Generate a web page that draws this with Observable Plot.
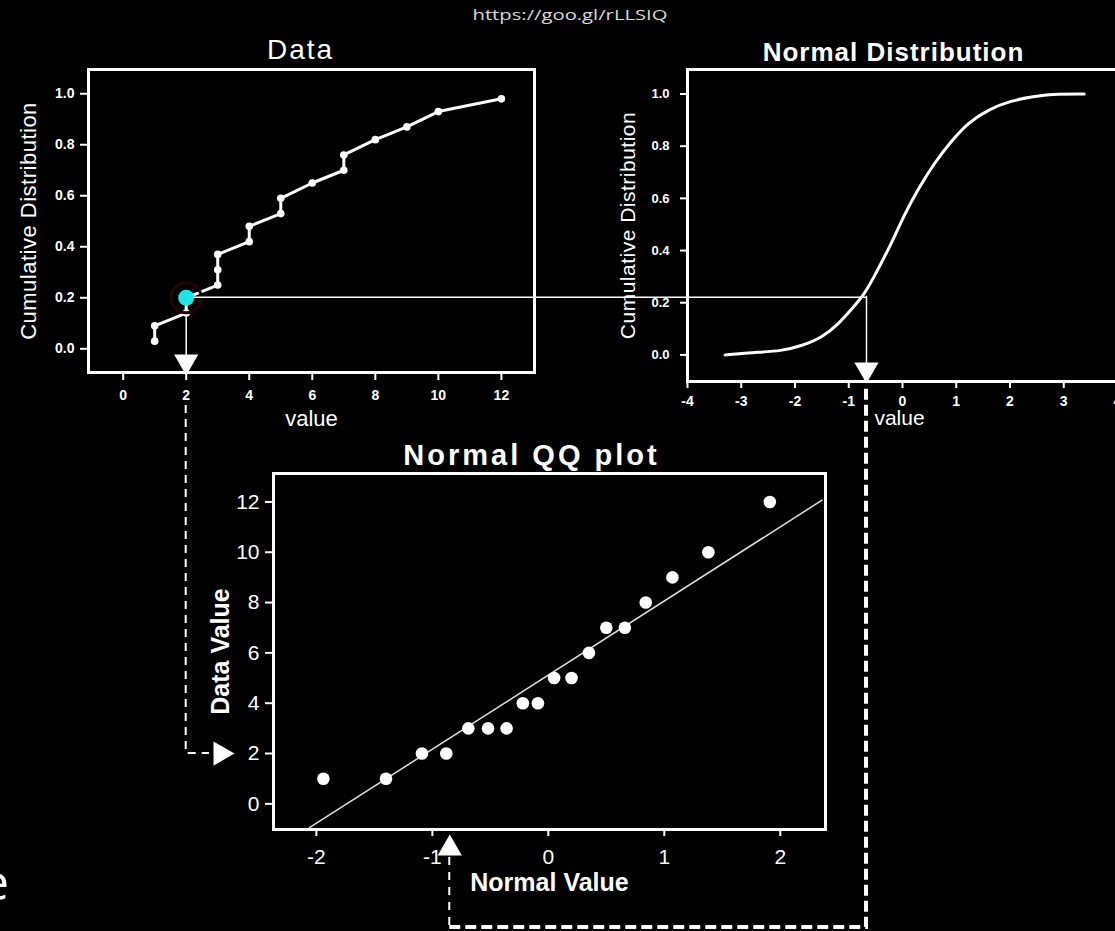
<!DOCTYPE html>
<html><head><meta charset="utf-8">
<script src="https://cdn.jsdelivr.net/npm/d3@7"></script>
<script src="https://cdn.jsdelivr.net/npm/@observablehq/plot@0.6"></script>
<style>
html,body{margin:0;padding:0;background:#000;}
#wrap{position:relative;width:1115px;height:931px;overflow:hidden;background:#000;}
#wrap svg{position:absolute;max-width:none;}
</style></head><body><div id="wrap"></div>
<script>
// ---- Data plot (empirical cumulative distribution) ----
const dataValues = [1,1,2,2,3,3,3,4,4,5,5,6,7,7,8,9,10,12];
const dataCum = [0.03,0.09,0.14,0.20,0.25,0.31,0.37,0.42,0.48,0.53,0.59,0.65,0.70,0.76,0.82,0.87,0.93,0.98];
const dataXTicks = [0,2,4,6,8,10,12];
const dataYTicks = [0,0.2,0.4,0.6,0.8,1.0];
const dataXDomain = [-1.1, 13.05];
const dataYDomain = [-0.093, 1.095];
const pickValue = 2;      // highlighted data value
const pickCum = 0.20;     // its cumulative probability

// ---- Normal distribution CDF ----
const normX = [-3.30,-2.80,-2.24,-1.87,-1.50,-1.19,-0.95,-0.70,-0.45,-0.20,0.04,0.29,0.60,0.91,1.22,1.59,2.02,2.45,2.76,3.38];
const normCum = [0.0,0.009,0.015,0.035,0.066,0.118,0.175,0.233,0.33,0.43,0.54,0.636,0.738,0.82,0.89,0.94,0.975,0.99,1.0,1.0];
const normXTicks = [-4,-3,-2,-1,0,1,2,3,4];
const normYTicks = [0,0.2,0.4,0.6,0.8,1.0];
const normXDomain = [-4, 4.0];
const normYDomain = [-0.102, 1.094];
const normCross = -0.67;  // normal value where cumulative = pick
const normCrossCum = 0.224;

// ---- Normal QQ plot ----
const qqNormal = [-1.94,-1.40,-1.09,-0.88,-0.69,-0.52,-0.36,-0.22,-0.09,0.05,0.20,0.35,0.50,0.66,0.84,1.07,1.38,1.91];
const qqData = [1,1,2,2,3,3,3,4,4,5,5,6,7,7,8,9,10,12];
const qqLineX = [-2.06, 2.36];
const qqLineY = [-0.95, 12.07];
const qqXTicks = [-2,-1,0,1,2];
const qqYTicks = [0,2,4,6,8,10,12];
const qqXDomain = [-2.37, 2.39];
const qqYDomain = [-1.02, 13.13];
const qqArrowX = -0.85;

const FONT = "'Liberation Sans', Arial, Helvetica, sans-serif";
const baseStyle = {background: "transparent", color: "white", fontFamily: FONT, overflow: "visible"};
const wrap = document.getElementById("wrap");

const dataPts = dataValues.map((v, i) => ({v, c: dataCum[i]}));
const normPts = normX.map((x, i) => ({x, c: normCum[i]}));
const qqPts = qqNormal.map((x, i) => ({x, v: qqData[i]}));
const qqLine = qqLineX.map((x, i) => ({x, v: qqLineY[i]}));
const fmt = d => String(d);
const mid = {textAnchor: "middle", lineAnchor: "middle"};

const dataChart = Plot.plot({
  width: 560, height: 440,
  marginLeft: 88, marginRight: 26, marginTop: 69, marginBottom: 68,
  x: {domain: dataXDomain}, y: {domain: dataYDomain},
  style: baseStyle,
  marks: [
    Plot.frame({stroke: "white", strokeWidth: 3}),
    Plot.axisX({ticks: dataXTicks, tickSize: 8, tickPadding: 10, fontSize: 14, fontWeight: "bold", strokeWidth: 2, label: null, tickFormat: fmt}),
    Plot.axisY({ticks: dataYTicks, tickSize: 8, tickPadding: 6, fontSize: 14, fontWeight: "bold", strokeWidth: 2, label: null, tickFormat: d => d.toFixed(1)}),
    Plot.text(["Data"], {frameAnchor: "top", dx: -11, dy: -19, fontSize: 28, ...mid}),
    Plot.text(["value"], {frameAnchor: "bottom", dy: 46, fontSize: 22, ...mid}),
    Plot.text(["Cumulative Distribution"], {frameAnchor: "left", dx: -60, rotate: -90, fontSize: 22, ...mid}),
    Plot.ruleX([{x: pickValue, y1: pickCum, y2: dataYDomain[0]}], {x: "x", y1: "y1", y2: "y2", stroke: "white", strokeWidth: 1.5}),
    Plot.line(dataPts, {x: "v", y: "c", stroke: "white", strokeWidth: 3}),
    Plot.dot(dataPts, {x: "v", y: "c", r: 3.8, fill: "white"}),
    Plot.dot([{x: pickValue, y: pickCum}], {x: "x", y: "y", r: 15, fill: "none", stroke: "#240505", strokeWidth: 3}),
    Plot.dot([{x: pickValue, y: pickCum}], {x: "x", y: "y", r: 8, fill: "#20e3ea"}),
    Plot.dot([{x: pickValue}], {x: "x", frameAnchor: "bottom", dy: -11, symbol: "triangle", rotate: 180, r: 9, fill: "white"})
  ]
});

const normChart = Plot.plot({
  width: 540, height: 440,
  marginLeft: 87, marginRight: 23, marginTop: 69, marginBottom: 59,
  x: {domain: normXDomain}, y: {domain: normYDomain},
  style: baseStyle,
  marks: [
    Plot.frame({stroke: "white", strokeWidth: 3}),
    Plot.axisX({ticks: normXTicks, tickSize: 7, tickPadding: 8, fontSize: 14, fontWeight: "bold", strokeWidth: 2, label: null, tickFormat: fmt}),
    Plot.axisY({ticks: normYTicks, tickSize: 7, tickPadding: 11, fontSize: 13, fontWeight: "bold", strokeWidth: 2, label: null, tickFormat: d => d.toFixed(1)}),
    Plot.text(["Normal Distribution"], {frameAnchor: "top", dx: -9, dy: -17, fontSize: 26, fontWeight: "bold", ...mid}),
    Plot.text(["value"], {frameAnchor: "bottom", dx: -3, dy: 37, fontSize: 21, ...mid}),
    Plot.text(["Cumulative Distribution"], {frameAnchor: "left", dx: -59, rotate: -90, fontSize: 21, ...mid}),
    Plot.line(normPts, {x: "x", y: "c", stroke: "white", strokeWidth: 3, curve: "basis"}),
    Plot.ruleX([{x: normCross, y1: normCrossCum, y2: normYDomain[0]}], {x: "x", y1: "y1", y2: "y2", stroke: "white", strokeWidth: 1.5}),
    Plot.dot([{x: normCross}], {x: "x", frameAnchor: "bottom", dy: -12, symbol: "triangle", rotate: 180, r: 9, fill: "white"})
  ]
});

const qqChart = Plot.plot({
  width: 700, height: 480,
  marginLeft: 123, marginRight: 25, marginTop: 53, marginBottom: 71,
  x: {domain: qqXDomain}, y: {domain: qqYDomain},
  style: baseStyle,
  marks: [
    Plot.frame({stroke: "white", strokeWidth: 3}),
    Plot.axisX({ticks: qqXTicks, tickSize: 7, tickPadding: 13, fontSize: 21, strokeWidth: 2, label: null, tickFormat: fmt}),
    Plot.axisY({ticks: qqYTicks, tickSize: 8, tickPadding: 6, fontSize: 21, strokeWidth: 2, label: null, tickFormat: fmt}),
    Plot.text(["Normal QQ plot"], {frameAnchor: "top", dx: -18, dy: -18, fontSize: 29, fontWeight: "bold", ...mid}),
    Plot.text(["Normal Value"], {frameAnchor: "bottom", dy: 53, fontSize: 25, fontWeight: "bold", ...mid}),
    Plot.text(["Data Value"], {frameAnchor: "left", dx: -53, rotate: -90, fontSize: 25, fontWeight: "bold", ...mid}),
    Plot.line(qqLine, {x: "x", y: "v", stroke: "#e0e0e0", strokeWidth: 1.5}),
    Plot.dot(qqPts, {x: "x", y: "v", r: 6.3, fill: "white"}),
    Plot.dot([{x: qqArrowX}], {x: "x", frameAnchor: "bottom", dy: 19, symbol: "triangle", r: 9, fill: "white"}),
    Plot.dot([{y: pickValue}], {y: "y", frameAnchor: "left", dx: -53, symbol: "triangle", rotate: 90, r: 9, fill: "white"})
  ]
});

function place(chart, left, top) {
  chart.style.position = "absolute";
  chart.style.left = left + "px";
  chart.style.top = top + "px";
  chart.style.background = "transparent";
  wrap.appendChild(chart);
}
place(dataChart, 0, 0);
place(normChart, 600, 0);
place(qqChart, 150, 420);

// letter spacing tweaks for the stretched titles
function spacing(chart, txt, ls) {
  d3.select(chart).selectAll("text").filter(function(){ return this.textContent === txt; }).style("letter-spacing", ls);
}
spacing(dataChart, "Data", "2px");
spacing(normChart, "Normal Distribution", "1px");
spacing(qqChart, "Normal QQ plot", "3px");
spacing(dataChart, "Cumulative Distribution", "0.5px");
spacing(normChart, "Cumulative Distribution", "0.5px");

// ---- connector overlay, positioned from the charts' own scales ----
const dX = dataChart.scale("x"), dY = dataChart.scale("y");
const nX = normChart.scale("x"), nY = normChart.scale("y");
const qX = qqChart.scale("x"), qY = qqChart.scale("y");
const px = dX.apply(pickValue), py = dY.apply(pickCum);
const dataBottom = dY.apply(dataYDomain[0]);
const nx = 600 + nX.apply(normCross);
const normBottom = nY.apply(normYDomain[0]);
const qx = 150 + qX.apply(qqArrowX);
const qy = 420 + qY.apply(pickValue);
const qLeft = 150 + qX.apply(qqXDomain[0]);
const qBottom = 420 + qY.apply(qqYDomain[0]);

const ov = d3.create("svg").attr("width", 1115).attr("height", 931)
  .style("position", "absolute").style("left", "0px").style("top", "0px");
ov.append("line").attr("x1", px + 8).attr("x2", nx).attr("y1", py).attr("y2", py)
  .attr("stroke", "white").attr("stroke-width", 1.5);
ov.append("path").attr("d", `M${px},${dataBottom + 33}V${qy}H${qLeft - 64}`)
  .attr("fill", "none").attr("stroke", "white").attr("stroke-width", 2).attr("stroke-dasharray", "8,6");
ov.append("path").attr("d", `M${qx},${qBottom + 28}V927`)
  .attr("fill", "none").attr("stroke", "white").attr("stroke-width", 2).attr("stroke-dasharray", "8,7");
ov.append("path").attr("d", `M${qx},927H${nx}V${normBottom + 3}`)
  .attr("fill", "none").attr("stroke", "white").attr("stroke-width", 4).attr("stroke-dasharray", "11,5");
ov.append("text").attr("x", 570).attr("y", 20).attr("text-anchor", "middle")
  .attr("font-family", "'Open Sans', sans-serif").attr("font-size", 15).attr("fill", "#d9d9d9")
  .attr("textLength", 195).attr("lengthAdjust", "spacingAndGlyphs").text("https://goo.gl/rLLSIQ");
ov.append("text").attr("x", 9).attr("y", 900).attr("text-anchor", "end")
  .attr("font-family", "'Open Sans', sans-serif").attr("font-size", 50).attr("fill", "white").text("e");
wrap.appendChild(ov.node());
</script></body></html>
